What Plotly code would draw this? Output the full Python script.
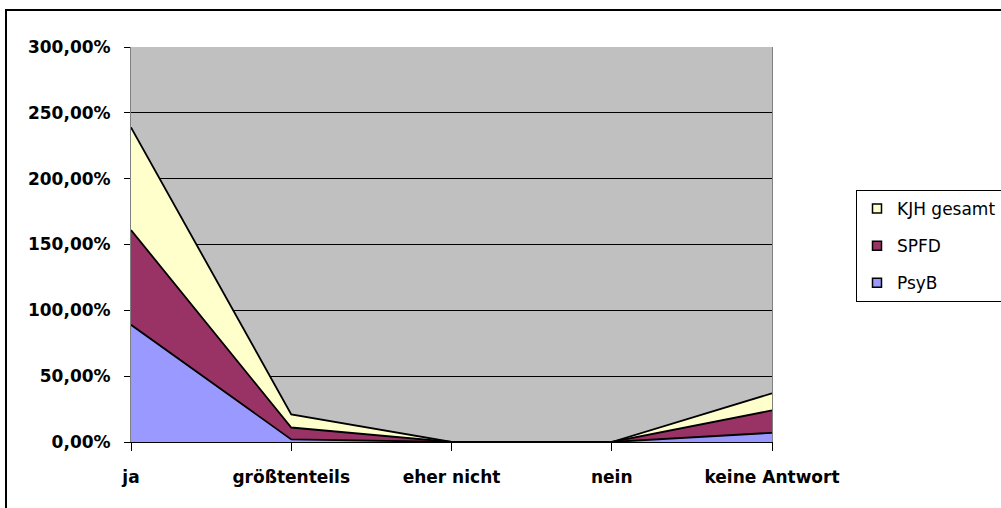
import plotly.graph_objects as go

# Answer categories and stacked shares (percent) per group
categories = ["ja", "größtenteils", "eher nicht", "nein", "keine Antwort"]
psyb = [89, 2, 0, 0, 7]
spfd = [72, 9, 0, 0, 17]
kjh_gesamt = [78, 10, 0, 0, 13]

y_tick_values = [0, 50, 100, 150, 200, 250, 300]
y_tick_labels = ["0,00%", "50,00%", "100,00%", "150,00%", "200,00%", "250,00%", "300,00%"]

W, H = 1001, 508
L, R, T, B = 131, 229, 47, 66
plot_w = W - L - R
plot_h = H - T - B

series = [
    ("PsyB", psyb, "#9999FF", 3),
    ("SPFD", spfd, "#993366", 2),
    ("KJH gesamt", kjh_gesamt, "#FFFFCC", 1),
]

fig = go.Figure()
for name, vals, color, rank in series:
    # stacked area
    fig.add_trace(go.Scatter(
        x=categories, y=vals, name=name,
        stackgroup="one", mode="lines",
        line=dict(color="black", width=1.8),
        fillcolor=color,
        showlegend=False,
    ))
    # square legend key for the area
    fig.add_trace(go.Scatter(
        x=[None], y=[None], name=name, mode="markers",
        marker=dict(symbol="square", size=9, color=color,
                    line=dict(color="black", width=1.5)),
        legendgroup=name, legendrank=rank,
    ))

tick_font = dict(family="DejaVu Sans", size=17, color="black", weight="bold")

fig.update_layout(
    width=W, height=H,
    margin=dict(l=L, r=R, t=T, b=B, pad=0, autoexpand=False),
    paper_bgcolor="white",
    plot_bgcolor="#C0C0C0",
    showlegend=True,
    legend=dict(
        x=(856 - L) / plot_w, xanchor="left",
        y=(H - B - 190) / plot_h, yanchor="top",
        bgcolor="white", bordercolor="black", borderwidth=1,
        font=dict(family="DejaVu Sans", size=17, color="black"),
        traceorder="grouped",
        tracegroupgap=12,
        itemwidth=30,
    ),
    xaxis=dict(
        type="category", range=[0, 4],
        showgrid=False, zeroline=False,
        showline=True, linecolor="black", linewidth=1,
        ticks="outside", ticklen=8, tickcolor="black",
        tickfont=tick_font, ticklabelstandoff=12,
    ),
    yaxis=dict(
        range=[0, 300],
        tickvals=y_tick_values, ticktext=y_tick_labels,
        showgrid=True, gridcolor="black", gridwidth=1,
        zeroline=False,
        showline=True, linecolor="#808080", linewidth=1, mirror=True,
        ticks="outside", ticklen=6, tickcolor="black",
        tickfont=tick_font, ticklabelstandoff=10,
    ),
)

# Outer chart frame
fig.add_shape(
    type="rect", xref="paper", yref="paper",
    x0=(6 - L) / plot_w, x1=(W + 20 - L) / plot_w,
    y0=-(B + 20) / plot_h, y1=(H - B - 10) / plot_h,
    line=dict(color="black", width=2), fillcolor="rgba(0,0,0,0)",
    layer="below",
)

fig.write_html("out.html")
